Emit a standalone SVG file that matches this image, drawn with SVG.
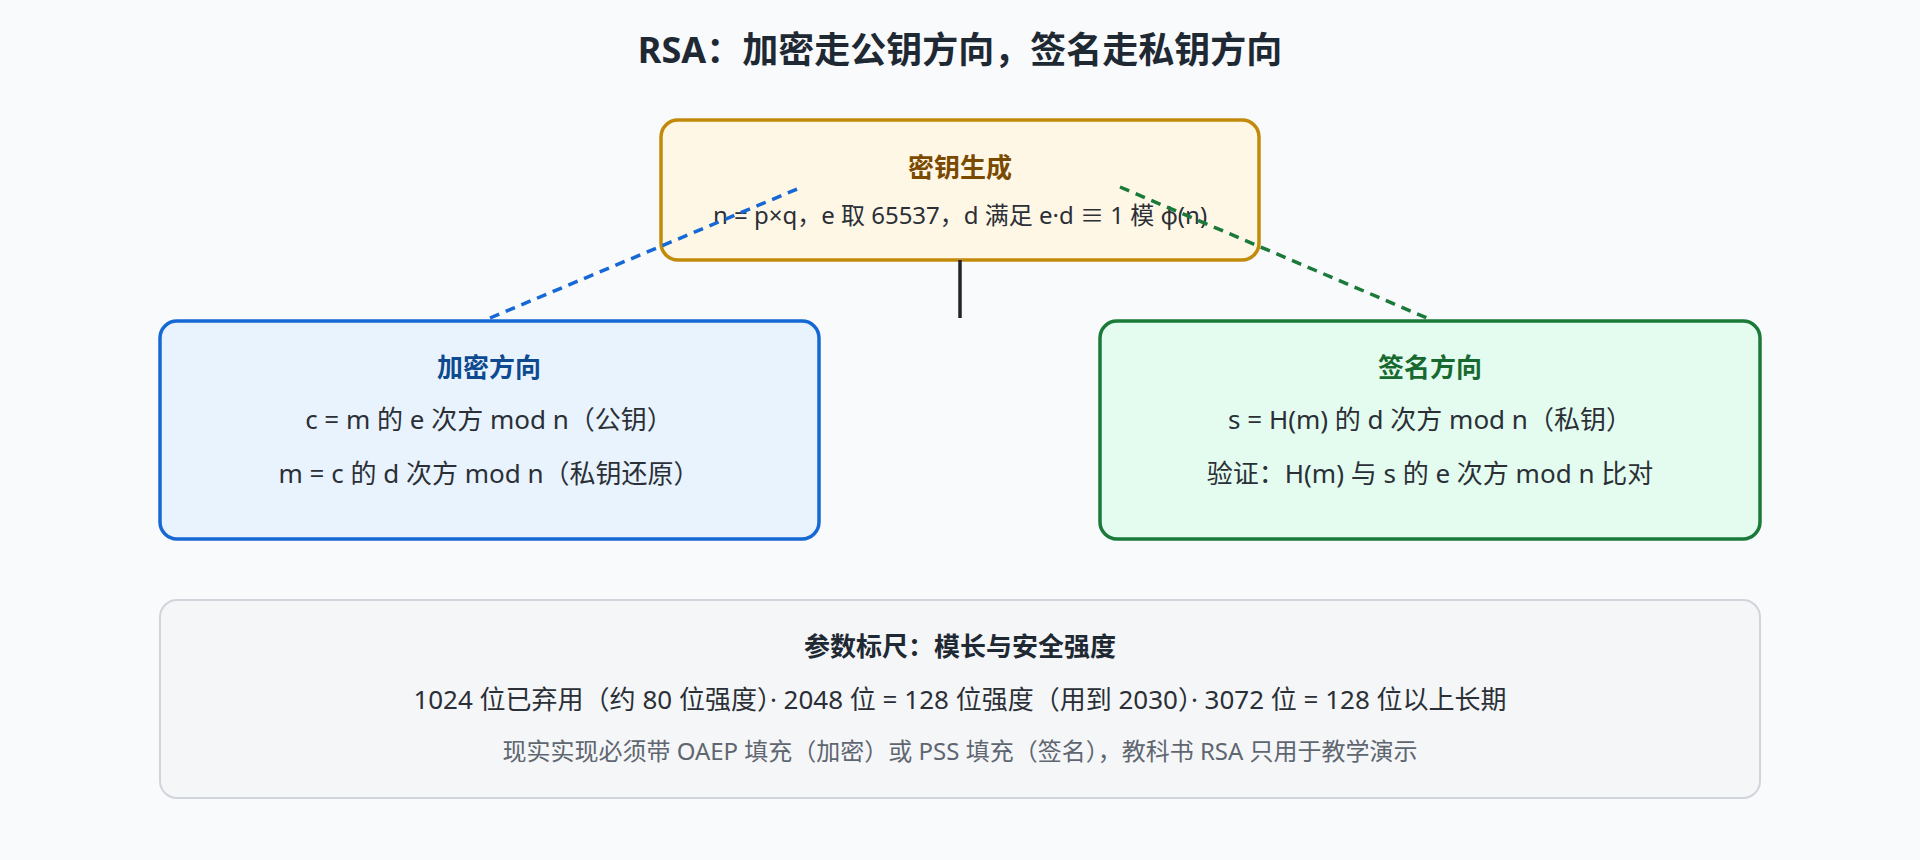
<svg xmlns="http://www.w3.org/2000/svg" width="1920" height="860" viewBox="0 0 1920 860">
<style>
text{font-family:"Noto Sans","Noto Sans CJK SC",sans-serif;text-anchor:middle}
.t{font-size:26px;font-weight:bold}
.b{font-size:26px;fill:#2b2f36}
.s{font-size:24px;fill:#5f6670}
</style>
<rect width="1920" height="860" fill="#f8fafc"/>
<text x="960" y="63" font-size="36" font-weight="bold" fill="#1f2933">RSA：加密走公钥方向，签名走私钥方向</text>
<g id="keygen">
<rect x="661" y="120" width="598" height="140" rx="17" fill="#fff7e6" stroke="#c28a0a" stroke-width="3.5"/>
<text class="t" x="960" y="177" fill="#7a4a00">密钥生成</text>
<text class="b" x="960" y="224" style="font-size:24px">n = p×q，e 取 65537，d 满足 e·d ≡ 1 模 φ(n)</text>
</g>
<g id="connectors" fill="none" stroke-width="3.5">
<line x1="960" y1="260" x2="960" y2="318" stroke="#22262b"/>
<line x1="490" y1="318" x2="802" y2="187" stroke="#1668d4" stroke-dasharray="10 7"/>
<line x1="1120" y1="187" x2="1427" y2="318" stroke="#1b7a3a" stroke-dasharray="10 7"/>
</g>
<g id="encrypt">
<rect x="160" y="321" width="659" height="218" rx="17" fill="#e8f3fd" stroke="#1668d4" stroke-width="3.5"/>
<text class="t" x="489" y="377" fill="#0d4a8f">加密方向</text>
<text class="b" x="489" y="429">c = m 的 e 次方 mod n（公钥）</text>
<text class="b" x="489" y="483">m = c 的 d 次方 mod n（私钥还原）</text>
</g>
<g id="sign">
<rect x="1100" y="321" width="660" height="218" rx="17" fill="#e3fcef" stroke="#1b7a3a" stroke-width="3.5"/>
<text class="t" x="1430" y="377" fill="#17692f">签名方向</text>
<text class="b" x="1430" y="429">s = H(m) 的 d 次方 mod n（私钥）</text>
<text class="b" x="1430" y="483">验证：H(m) 与 s 的 e 次方 mod n 比对</text>
</g>
<g id="params">
<rect x="160" y="600" width="1600" height="198" rx="17" fill="#f4f6f8" stroke="#d0d5db" stroke-width="2"/>
<text class="t" x="960" y="656" fill="#1f2933">参数标尺：模长与安全强度</text>
<text class="b" x="960" y="709">1024 位已弃用（约 80 位强度）· 2048 位 = 128 位强度（用到 2030）· 3072 位 = 128 位以上长期</text>
<text class="s" x="960" y="760">现实实现必须带 OAEP 填充（加密）或 PSS 填充（签名），教科书 RSA 只用于教学演示</text>
</g>
</svg>
